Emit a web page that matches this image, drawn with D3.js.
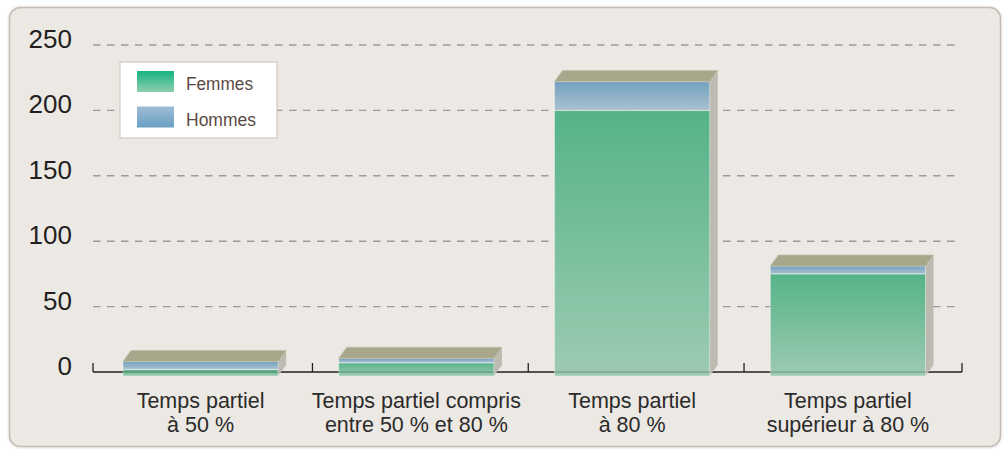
<!DOCTYPE html>
<html>
<head>
<meta charset="utf-8">
<script src="https://cdn.jsdelivr.net/npm/d3@7/dist/d3.min.js"></script>
<style>
  html, body { margin: 0; padding: 0; background: #ffffff; }
  svg { display: block; }
</style>
</head>
<body>
<svg id="chart" width="1006" height="449"></svg>
<script>
// Categories (two-line labels)
const categories = [
  ["Temps partiel", "à 50 %"],
  ["Temps partiel compris", "entre 50 % et 80 %"],
  ["Temps partiel", "à 80 %"],
  ["Temps partiel", "supérieur à 80 %"]
];
// Stacked series values
const femmes = [2, 7, 200, 75];
const hommes = [6, 3.5, 22, 6];
const seriesNames = ["Femmes", "Hommes"];
const yTicks = [0, 50, 100, 150, 200, 250];

const svg = d3.select("#chart");
const defs = svg.append("defs");

function vGrad(id, top, bottom) {
  const g = defs.append("linearGradient").attr("id", id)
    .attr("x1", 0).attr("y1", 0).attr("x2", 0).attr("y2", 1);
  g.append("stop").attr("offset", "0%").attr("stop-color", top);
  g.append("stop").attr("offset", "100%").attr("stop-color", bottom);
}
vGrad("gF", "#55b388", "#9dcbb1");
vGrad("gH", "#74a2c0", "#a9c0d0");
vGrad("lgF", "#17b382", "#8ccfb0");
vGrad("lgH", "#9fbdd6", "#6a9fc3");

const shadow = defs.append("filter").attr("id", "sh")
  .attr("x", "-5%").attr("y", "-5%").attr("width", "110%").attr("height", "110%");
shadow.append("feDropShadow").attr("dx", 0).attr("dy", 0.5)
  .attr("stdDeviation", 1.5).attr("flood-color", "#000").attr("flood-opacity", 0.18);

// Panel
svg.append("rect")
  .attr("x", 9.5).attr("y", 7.5).attr("width", 991).attr("height", 439)
  .attr("rx", 11).attr("ry", 11)
  .attr("fill", "#ece8e3").attr("stroke", "#c6bbb2").attr("stroke-width", 1.5)
  .attr("filter", "url(#sh)");

const left = 93, right = 962;
const y = d3.scaleLinear().domain([0, 250]).range([372, 45]);
const x = d3.scaleBand().domain(d3.range(categories.length))
  .range([left, 955.5]).paddingInner(0.281).paddingOuter(0.139);
const dx = 8, dy = 11, floor = 4;

// Gridlines
svg.append("g").selectAll("line").data(yTicks.filter(d => d > 0)).join("line")
  .attr("x1", left).attr("x2", 958)
  .attr("y1", d => y(d)).attr("y2", d => y(d))
  .attr("stroke", "#9b9b9b").attr("stroke-width", 1.4)
  .attr("stroke-dasharray", "7.5,6.5");

// Y tick labels
svg.append("g").selectAll("text").data(yTicks).join("text")
  .attr("x", 72).attr("y", d => y(d) + 3)
  .attr("text-anchor", "end")
  .attr("font-family", "Liberation Sans, Arial, sans-serif")
  .attr("font-size", 26).attr("fill", "#231f20")
  .text(d => d);

// Axis line and ticks between categories
const tickX = [left];
for (let i = 1; i < categories.length; i++) {
  tickX.push(((x(i - 1) + x.bandwidth() + dx) + x(i)) / 2);
}
tickX.push(right);
const axis = svg.append("g");
axis.append("line").attr("x1", left).attr("x2", right)
  .attr("y1", y(0)).attr("y2", y(0)).attr("stroke", "#231f20").attr("stroke-width", 1.3);
axis.selectAll("line.tk").data(tickX).join("line")
  .attr("class", "tk")
  .attr("x1", d => d).attr("x2", d => d)
  .attr("y1", y(0)).attr("y2", y(0) - 9)
  .attr("stroke", "#231f20").attr("stroke-width", 1.3);

// 3D stacked bars
const bars = svg.append("g");
categories.forEach((c, i) => {
  const x0 = x(i), x1 = x0 + x.bandwidth();
  const total = femmes[i] + hommes[i];
  const yb = y(0) + floor, yt = y(total), ym = y(femmes[i]);
  const g = bars.append("g");
  // right side face
  g.append("path")
    .attr("d", `M${x1},${yt}L${x1 + dx},${yt - dy}L${x1 + dx},${yb - dy}L${x1},${yb}Z`)
    .attr("fill", "#bdbbb0");
  // front: Femmes segment
  g.append("rect").attr("x", x0).attr("y", ym).attr("width", x1 - x0).attr("height", yb - ym)
    .attr("fill", "url(#gF)");
  // front: Hommes segment
  g.append("rect").attr("x", x0).attr("y", yt).attr("width", x1 - x0).attr("height", ym - yt)
    .attr("fill", "url(#gH)");
  // separator between segments
  g.append("line").attr("x1", x0).attr("x2", x1).attr("y1", ym).attr("y2", ym)
    .attr("stroke", "#dfe6e2").attr("stroke-width", 1);
  // axis shadow visible through the bar
  g.append("line").attr("x1", x0).attr("x2", x1).attr("y1", y(0)).attr("y2", y(0))
    .attr("stroke", "#000").attr("stroke-opacity", 0.14).attr("stroke-width", 2);
  // front outline
  g.append("rect").attr("x", x0).attr("y", yt).attr("width", x1 - x0).attr("height", yb - yt)
    .attr("fill", "none").attr("stroke", "#ffffff").attr("stroke-opacity", 0.35).attr("stroke-width", 1);
  // top face
  g.append("path")
    .attr("d", `M${x0},${yt}L${x0 + dx},${yt - dy}L${x1 + dx},${yt - dy}L${x1},${yt}Z`)
    .attr("fill", "#a8a78c").attr("stroke", "#bdbca6").attr("stroke-width", 0.8);
});

// Category labels
const lab = svg.append("g")
  .attr("font-family", "Liberation Sans, Arial, sans-serif")
  .attr("font-size", 21.5).attr("fill", "#2b2b2b").attr("text-anchor", "middle");
categories.forEach((c, i) => {
  const cx = x(i) + x.bandwidth() / 2;
  const t = lab.append("text").attr("x", cx).attr("y", 408);
  c.forEach((line, k) => {
    t.append("tspan").attr("x", cx).attr("dy", k === 0 ? 0 : 24).text(line);
  });
});

// Legend
const lg = svg.append("g");
lg.append("rect").attr("x", 120).attr("y", 62).attr("width", 157).attr("height", 76)
  .attr("fill", "#ffffff").attr("stroke", "#cbc0b7").attr("stroke-width", 1);
seriesNames.forEach((s, k) => {
  const yy = 71 + k * 35.5;
  lg.append("rect").attr("x", 137).attr("y", yy).attr("width", 37).attr("height", 21)
    .attr("fill", k === 0 ? "url(#lgF)" : "url(#lgH)");
  lg.append("text").attr("x", 186).attr("y", yy + 19)
    .attr("font-family", "Liberation Sans, Arial, sans-serif")
    .attr("font-size", 18).attr("fill", "#5a4a43")
    .attr("textLength", k === 0 ? 67 : 70).attr("lengthAdjust", "spacingAndGlyphs")
    .text(s);
});
</script>
</body>
</html>
